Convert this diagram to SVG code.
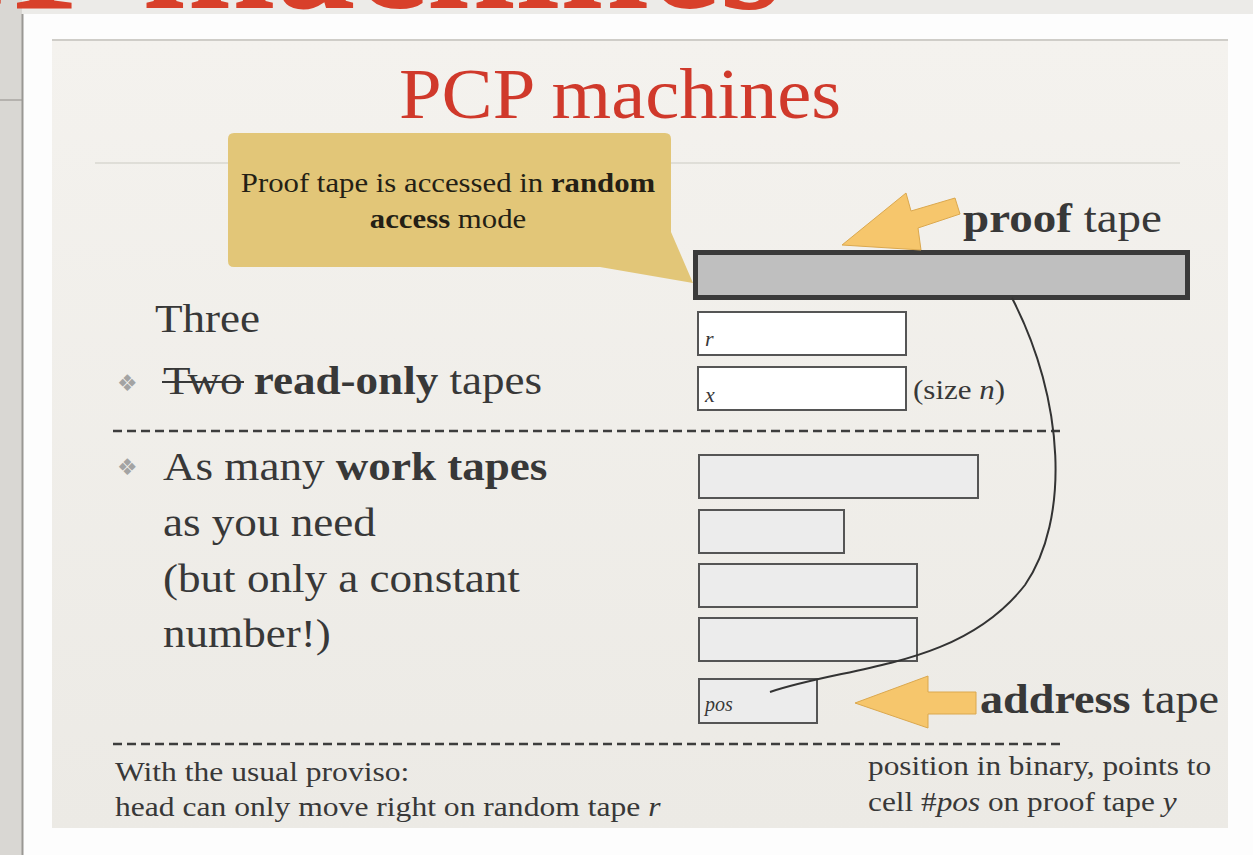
<svg xmlns="http://www.w3.org/2000/svg" width="1253" height="855" viewBox="0 0 1253 855">
<defs>
<linearGradient id="slideBg" x1="0" y1="0" x2="0" y2="1">
<stop offset="0" stop-color="#f4f2ee"/>
<stop offset="1" stop-color="#eceae5"/>
</linearGradient>
<style>
.serif{font-family:"Liberation Serif","Times New Roman",serif;fill:#383838}
.b{font-weight:bold}
.i{font-style:italic}
.tape{fill:#ffffff;stroke:#555555;stroke-width:2}
.work{fill:#ececec;stroke:#555555;stroke-width:2}
.dash{stroke:#3d3d3d;stroke-width:2.5;stroke-dasharray:9 5;fill:none}
.yarrow{fill:#f6c66c;stroke:#dba84e;stroke-width:1}
.bullet{font-family:"DejaVu Sans",sans-serif;fill:#a3a3a3;font-size:23px}
</style>
</defs>

<g id="backdrop">
<rect x="0" y="0" width="1253" height="855" fill="#ecebe8"/>
<rect x="0" y="0" width="22" height="855" fill="#d9d7d3"/>
<line x1="0" y1="100" x2="22" y2="100" stroke="#a8a6a2" stroke-width="1.5"/>
<text x="-200" y="8" font-family="Liberation Serif, serif" font-weight="bold" font-size="160" fill="#d8402a">PCP machines</text>
<rect x="22" y="14" width="1231" height="841" fill="#fdfdfd"/>
<line x1="22.5" y1="14" x2="22.5" y2="855" stroke="#9a9894" stroke-width="2"/>
</g>

<g id="slide">
<rect x="52" y="39" width="1176" height="789" fill="url(#slideBg)"/>
<line x1="52" y1="40" x2="1228" y2="40" stroke="#cfcdc8" stroke-width="2"/>
<line x1="95" y1="163" x2="1180" y2="163" stroke="#d9d7d1" stroke-width="1.5"/>
</g>

<g id="title">
<text class="serif" transform="translate(620,118) scale(1.065,1)" text-anchor="middle" font-size="72" style="fill:#d0392b">PCP machines</text>
</g>

<g id="callout">
<path d="M 234 133 H 665 Q 671 133 671 139 V 232 L 693 283 L 600 267 H 234 Q 228 267 228 261 V 139 Q 228 133 234 133 Z" fill="#e2c678"/>
<text class="serif" transform="translate(448,192) scale(1.14,1)" text-anchor="middle" font-size="27" style="fill:#241f15">Proof tape is accessed in <tspan class="b">random</tspan></text>
<text class="serif" transform="translate(448,228) scale(1.14,1)" text-anchor="middle" font-size="27" style="fill:#241f15"><tspan class="b">access</tspan> mode</text>
</g>

<g id="left-text">
<text class="serif" transform="translate(155,332) scale(1.1,1)" font-size="41">Three</text>
<text class="bullet" x="117" y="391">❖</text>
<text class="serif" transform="translate(163,394) scale(1.1,1)" font-size="41">Two <tspan class="b">read-only</tspan> tapes</text>
<line x1="162" y1="382" x2="244" y2="382" stroke="#383838" stroke-width="2"/>
<text class="bullet" x="117" y="475">❖</text>
<text class="serif" transform="translate(163,480) scale(1.1,1)" font-size="41">As many <tspan class="b">work tapes</tspan></text>
<text class="serif" transform="translate(163,536) scale(1.1,1)" font-size="41">as you need</text>
<text class="serif" transform="translate(163,592) scale(1.1,1)" font-size="41">(but only a constant</text>
<text class="serif" transform="translate(163,647) scale(1.1,1)" font-size="41">number!)</text>
</g>

<g id="separators">
<line class="dash" x1="113" y1="431" x2="1065" y2="431"/>
<line class="dash" x1="113" y1="744" x2="1065" y2="744"/>
</g>

<g id="tape-r">
<rect class="tape" x="698" y="312" width="208" height="43"/>
<text class="serif i" x="705" y="346" font-size="22">r</text>
</g>

<g id="tape-x">
<rect class="tape" x="698" y="367" width="208" height="43"/>
<text class="serif i" x="705" y="402" font-size="22">x</text>
<text class="serif" transform="translate(913,399) scale(1.15,1)" font-size="27">(size <tspan class="i">n</tspan>)</text>
</g>

<g id="work-tape-1"><rect class="work" x="699" y="455" width="279" height="43"/></g>
<g id="work-tape-2"><rect class="work" x="699" y="510" width="145" height="43"/></g>
<g id="work-tape-3"><rect class="work" x="699" y="564" width="218" height="43"/></g>
<g id="work-tape-4"><rect class="work" x="699" y="618" width="218" height="43"/></g>

<g id="address-tape">
<rect class="work" x="699" y="679" width="118" height="44"/>
<text class="serif i" x="705" y="711" font-size="20">pos</text>
</g>

<g id="proof-tape">
<rect x="695.5" y="252.5" width="492" height="45" fill="#bfbfbf" stroke="#3a3a3a" stroke-width="5"/>
</g>

<g id="connectors">
<path d="M 770 692 C 850 665, 960 668, 1025 585 C 1070 520, 1065 400, 1012 298" fill="none" stroke="#333333" stroke-width="2"/>
</g>

<g id="proof-label">
<polygon class="yarrow" points="842,245 906,193 911,211 955,198 960,214 918,228 921,250"/>
<text class="serif" transform="translate(963,232) scale(1.12,1)" font-size="42"><tspan class="b">proof</tspan> tape</text>
</g>

<g id="address-label">
<polygon class="yarrow" points="855,703 928,676 928,692 976,692 976,714 928,714 928,728"/>
<text class="serif" transform="translate(980,713) scale(1.1,1)" font-size="42"><tspan class="b">address</tspan> tape</text>
</g>

<g id="notes">
<text class="serif" transform="translate(115,781) scale(1.17,1)" font-size="27">With the usual proviso:</text>
<text class="serif" transform="translate(115,816) scale(1.17,1)" font-size="27">head can only move right on random tape <tspan class="i">r</tspan></text>
<text class="serif" transform="translate(868,775) scale(1.16,1)" font-size="27">position in binary, points to</text>
<text class="serif" transform="translate(868,811) scale(1.16,1)" font-size="27">cell #<tspan class="i">pos</tspan> on proof tape <tspan class="i">y</tspan></text>
</g>
</svg>
